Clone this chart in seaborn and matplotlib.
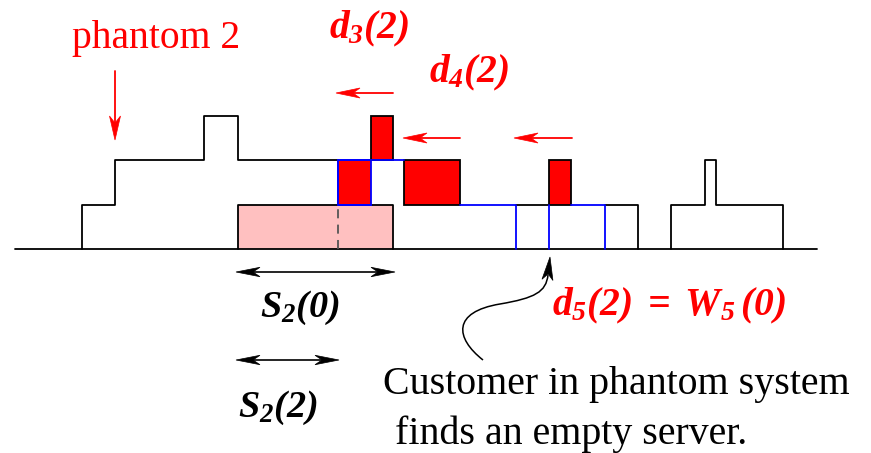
import numpy as np
import pandas as pd
import matplotlib
matplotlib.use("Agg")
import matplotlib.pyplot as plt
from matplotlib.path import Path
from matplotlib.patches import PathPatch, Polygon, Rectangle
import seaborn as sns

# ---------------- data ----------------
# black outline segments: (seg id, time, level)
black_seg = [0, 0,
             1, 1, 1, 1, 1, 1, 1, 1, 1,
             2, 2, 2, 2,
             3, 3,
             4, 4, 4,
             5, 5, 5, 5, 5, 5, 5, 5]
black_t = [15, 817,
           82, 82, 115, 115, 204, 204, 238, 238, 338,
           238, 238, 393, 393,
           516, 549,
           605, 638, 638,
           671, 671, 705, 705, 716, 716, 783, 783]
black_lvl = [0, 0,
             0, 1, 1, 2, 2, 3, 3, 2, 2,
             0, 1, 1, 0,
             1, 1,
             1, 1, 0,
             0, 1, 1, 2, 2, 1, 1, 0]

# blue outline segments
blue_seg = [0, 0, 0, 0, 0, 0,
            1, 1, 1,
            2, 2,
            3, 3, 3]
blue_t = [371, 338, 338, 371, 393, 404,
          460, 516, 516,
          549, 549,
          571, 605, 605]
blue_lvl = [1, 1, 2, 2, 2, 2,
            1, 1, 0,
            0, 1,
            1, 1, 0]

# red blocks: start, end, bottom level, top level
red_start = [338, 371, 404, 549]
red_end = [371, 393, 460, 571]
red_bottom = [1, 2, 1, 1]
red_top = [2, 3, 2, 2]
red_edge = ["#0000ff", "black", "black", "black"]

# pink service block S2(0)
pink_start, pink_end, pink_bottom, pink_top = 238, 393, 0, 1
dash_t = 338

BASE_Y, STEP = 249.0, 44.4


def ypx(level):
    return BASE_Y - STEP * np.asarray(level, dtype=float)


# ---------------- figure ----------------
sns.set_theme(style="white")
plt.rcParams["font.family"] = ["Liberation Serif", "DejaVu Serif"]
plt.rcParams["mathtext.fontset"] = "custom"
plt.rcParams["mathtext.it"] = "Liberation Serif:italic:bold"
plt.rcParams["mathtext.rm"] = "Liberation Serif:italic:bold"
plt.rcParams["mathtext.bf"] = "Liberation Serif:italic:bold"

fig = plt.figure(figsize=(8.71, 4.53), dpi=100)
ax = fig.add_axes([0, 0, 1, 1])

RED = "#ff0000"
LW = 1.3

# pink block
ax.add_patch(Rectangle((pink_start, ypx(pink_top)), pink_end - pink_start,
                       ypx(pink_bottom) - ypx(pink_top),
                       facecolor="#ffc0c0", edgecolor="none", zorder=1))
# red blocks
for s, e, b, t, ec in zip(red_start, red_end, red_bottom, red_top, red_edge):
    ax.add_patch(Rectangle((s, ypx(t)), e - s, ypx(b) - ypx(t),
                           facecolor=RED, edgecolor=ec, lw=LW, zorder=3))

df_black = pd.DataFrame({"seg": black_seg, "t": black_t, "y": ypx(black_lvl)})
df_blue = pd.DataFrame({"seg": blue_seg, "t": blue_t, "y": ypx(blue_lvl)})
sns.lineplot(data=df_black, x="t", y="y", units="seg", estimator=None, sort=False,
             color="black", lw=LW, ax=ax, zorder=2)
sns.lineplot(data=df_blue, x="t", y="y", units="seg", estimator=None, sort=False,
             color="#0000ff", lw=LW, ax=ax, zorder=4)
ax.plot([dash_t, dash_t], [ypx(0), ypx(1)], color="#555555", lw=LW,
        linestyle=(0, (5, 3.5)), zorder=2)
ax.set_xlim(0, 871)
ax.set_ylim(453, 0)
ax.axis("off")


# ---------------- arrows ----------------
def head(tip, direction, color, length=24, half=5, notch=17):
    d = np.asarray(direction, float)
    d = d / np.linalg.norm(d)
    n = np.array([-d[1], d[0]])
    tip = np.asarray(tip, float)
    back = tip - d * length
    pts = [tip, back + n * half, tip - d * notch, back - n * half]
    ax.add_patch(Polygon(pts, closed=True, facecolor=color, edgecolor=color,
                         lw=0.5, zorder=6))
    return tip - d * notch


def arrow(start, tip, color, lw=1.3, **kw):
    start = np.asarray(start, float)
    tip = np.asarray(tip, float)
    stop = head(tip, tip - start, color, **kw)
    ax.plot([start[0], stop[0]], [start[1], stop[1]], color=color, lw=lw, zorder=5)


# phantom 2 arrow
arrow((115, 71), (115, 140), RED, half=5.5)
# red departure arrows
arrow((393, 93), (336, 93), RED)
arrow((460, 138), (403, 138), RED)
arrow((572, 138), (514, 138), RED)
# double arrows
for x0, x1, y in [(236, 395, 272), (236, 339, 360)]:
    head((x0, y), (-1, 0), "black", length=24, half=4.7, notch=17)
    head((x1, y), (1, 0), "black", length=24, half=4.7, notch=17)
    ax.plot([x0 + 17, x1 - 17], [y, y], color="black", lw=1.2, zorder=5)

# curved arrow
verts = [(483, 360), (455, 338), (452, 312), (500, 304),
         (535, 298), (546, 292), (548, 275)]
codes = [Path.MOVETO, Path.CURVE4, Path.CURVE4, Path.CURVE4,
         Path.CURVE4, Path.CURVE4, Path.CURVE4]
ax.add_patch(PathPatch(Path(verts, codes), facecolor="none", edgecolor="black",
                       lw=1.1, zorder=5))
head((550, 257), (2, -18), "black", length=23, half=5.5, notch=17)

# ---------------- text ----------------
ax.text(72, 48, "phantom 2", color=RED, fontsize=28.5, ha="left", va="baseline")
ax.text(329, 38, r"$d_3(2)$", color=RED, fontsize=28.5, ha="left", va="baseline")
ax.text(429, 82, r"$d_4(2)$", color=RED, fontsize=28.5, ha="left", va="baseline")
ax.text(260, 317, r"$S_2(0)$", color="black", fontsize=27.5, ha="left", va="baseline")
ax.text(238, 417, r"$S_2(2)$", color="black", fontsize=27.5, ha="left", va="baseline")
ax.text(552, 315, r"$d_5(2)\;=\;W_5\,(0)$", color=RED, fontsize=28.5, ha="left",
        va="baseline")
ax.text(383, 394, "Customer in phantom system", color="black", fontsize=28.7,
        ha="left", va="baseline")
ax.text(395, 444, "finds an empty server.", color="black", fontsize=28.7,
        ha="left", va="baseline")

fig.savefig("out.png", dpi=100)
